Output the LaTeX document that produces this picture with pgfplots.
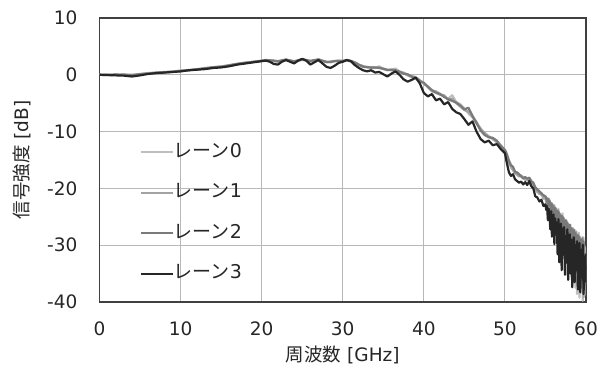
\documentclass[border=0pt]{standalone}
\usepackage{pgfplots}
\pgfplotsset{compat=1.18}
\usepackage{pgfplotstable}
\usepackage{fontspec}
\setmainfont{DejaVu Sans}
\newfontfamily\cjk{Noto Sans CJK JP}
\usetikzlibrary{calc}
\definecolor{laneA}{HTML}{BEBEBE}
\definecolor{laneB}{HTML}{A3A3A3}
\definecolor{laneC}{HTML}{7A7A7A}
\definecolor{laneD}{HTML}{262626}
\definecolor{gridc}{HTML}{B8B8B8}
\definecolor{axc}{HTML}{404040}
\pgfplotstableread{
f l0 l1 l2 l3
0 0 0 0 0
1 0 -0.05 0 -0.05
2 0.05 0 0.05 -0.1
3 0 0.05 0 -0.15
4 -0.05 0 -0.1 -0.3
5 0.1 0.15 0.1 -0.1
6 0.25 0.3 0.2 0.15
7 0.35 0.4 0.35 0.3
8 0.45 0.5 0.4 0.4
9 0.6 0.55 0.5 0.5
10 0.7 0.75 0.65 0.6
11 0.85 0.8 0.8 0.8
12 0.9 1.0 0.95 0.9
13 1.2 1.1 1.15 1.0
14 1.3 1.35 1.3 1.2
15 1.5 1.45 1.4 1.3
16 1.6 1.7 1.65 1.5
17 1.9 1.95 1.9 1.8
18 2.1 2.15 2.1 2.0
19 2.3 2.25 2.3 2.2
20 2.45 2.5 2.45 2.4
20.5 2.5 2.55 2.6 2.5
21 2.55 2.5 2.55 2.3
21.5 2.4 2.45 2.5 1.9
22 2.3 2.35 2.4 1.8
22.5 2.5 2.45 2.55 2.3
23 2.6 2.65 2.7 2.6
23.5 2.5 2.55 2.5 2.3
24 2.3 2.4 2.35 2.0
24.5 2.5 2.55 2.5 2.5
25 2.6 2.7 2.75 2.8
25.5 2.5 2.55 2.6 2.5
26 2.3 2.4 2.45 1.8
26.5 2.55 2.5 2.6 2.2
27 2.7 2.75 2.65 2.6
27.5 2.4 2.5 2.45 2.0
28 2.2 2.3 2.25 1.4
28.5 2.3 2.2 2.3 1.2
29 2.4 2.45 2.4 1.6
29.5 2.45 2.4 2.5 2.1
30 2.4 2.35 2.45 2.3
30.5 2.5 2.55 2.6 2.6
31 2.35 2.4 2.45 2.4
31.5 2.1 2.2 2.15 1.7
32 1.7 1.8 1.75 1.2
32.5 1.5 1.55 1.4 0.8
33 1.4 1.3 1.35 0.6
33.5 1.3 1.35 1.25 0.8
34 1.2 1.25 1.3 0.4
34.5 1.5 1.3 1.2 0.5
35 1.0 1.1 1.05 0.1
35.5 0.8 0.9 0.85 -0.3
36 0.9 0.8 0.9 0.2
36.5 1.1 0.7 0.8 0.6
37 0.6 0.5 0.55 0.0
37.5 0.4 0.3 0.2 -0.8
38 0.0 -0.1 0.1 -1.2
38.5 -0.2 -0.4 -0.3 -0.9
39 -0.4 -0.6 -0.5 -0.5
39.5 -0.9 -1.0 -1.1 -1.5
40 -1.6 -1.5 -1.4 -3.2
40.5 -2.0 -2.2 -2.1 -3.8
41 -2.8 -2.9 -2.7 -3.4
41.5 -2.9 -3.2 -3.1 -4.5
42 -3.3 -3.5 -3.4 -4.2
42.5 -3.8 -3.6 -3.9 -5.2
43 -4.2 -4.4 -4.3 -4.8
43.5 -3.6 -4.2 -4.6 -6.0
44 -4.8 -5.0 -4.9 -6.6
44.5 -5.2 -5.6 -5.4 -6.9
45 -5.9 -6.2 -6.1 -7.8
45.5 -6.8 -6.5 -5.8 -8.8
46 -7.5 -7.4 -7.2 -8.2
46.5 -8.6 -8.3 -8.5 -10.0
47 -9.4 -9.6 -9.8 -11.3
47.5 -10.4 -10.2 -10.6 -11.9
48 -10.8 -10.9 -11.0 -11.6
48.5 -11.4 -11.2 -11.1 -12.4
49 -11.7 -11.9 -11.6 -12.2
49.5 -12.4 -12.8 -12.5 -13.1
50 -13.5 -13.3 -13.2 -13.8
50.25 -15.2 -14.5 -14.0 -15.6
50.5 -15.8 -15.4 -15.1 -17.2
50.75 -16.0 -16.3 -15.9 -17.8
51 -16.5 -16.8 -16.2 -17.5
51.25 -17.0 -17.3 -17.1 -18.4
51.5 -17.4 -17.6 -17.2 -18.7
51.75 -17.6 -17.9 -17.5 -19.0
52 -17.8 -17.7 -17.9 -18.8
52.25 -18.3 -18.1 -18.2 -19.3
52.5 -18.2 -18.5 -18.0 -18.9
52.75 -18.6 -18.4 -18.3 -19.4
53 -18.3 -18.6 -18.1 -18.7
53.25 -18.9 -19.0 -18.7 -19.6
53.5 -19.1 -19.4 -19.0 -20.0
53.75 -20.3 -20.0 -19.8 -21.4
54 -20.7 -20.5 -20.2 -21.6
54.25 -20.6 -21.0 -20.5 -22.3
54.5 -21.2 -20.8 -20.9 -22.0
54.75 -21.5 -21.8 -21.2 -23.1
55 -21.9 -21.6 -21.4 -22.8
55.1 -22.6 -21.9 -21.7 -23.8
55.2 -21.7 -23.0 -22.4 -23.1
55.3 -23.4 -22.1 -21.8 -25.6
55.4 -22.5 -21.8 -23.0 -23.6
55.5 -22.0 -23.6 -22.2 -24.9
55.6 -24.1 -22.4 -22.6 -27.2
55.7 -22.7 -24.3 -23.7 -24.0
55.8 -25.0 -22.6 -22.8 -28.5
55.9 -23.2 -23.5 -24.2 -25.1
56.0 -22.9 -25.1 -23.2 -24.6
56.1 -25.6 -23.0 -24.9 -29.8
56.2 -23.4 -25.8 -23.5 -25.3
56.3 -26.8 -23.5 -24.0 -27.9
56.4 -24.0 -24.2 -25.7 -26.0
56.5 -24.8 -26.9 -23.9 -31.6
56.6 -23.6 -24.0 -26.4 -25.4
56.7 -27.9 -27.6 -24.3 -33.0
56.8 -24.5 -24.6 -25.2 -27.8
56.9 -29.0 -25.4 -27.3 -26.2
57.0 -25.0 -29.0 -24.8 -34.4
57.1 -24.4 -25.0 -28.0 -27.1
57.2 -30.2 -28.1 -25.1 -30.5
57.3 -25.3 -25.5 -26.3 -26.8
57.4 -31.5 -30.7 -29.2 -35.2
57.5 -26.8 -25.9 -25.6 -28.4
57.6 -25.6 -31.8 -30.0 -33.0
57.7 -32.8 -26.6 -26.0 -27.2
57.8 -26.2 -28.0 -27.9 -36.1
57.9 -34.0 -33.1 -31.2 -29.5
58.0 -27.5 -26.5 -26.4 -28.1
58.1 -26.4 -34.4 -32.0 -35.0
58.2 -35.6 -27.4 -27.0 -29.0
58.3 -27.0 -31.2 -29.5 -37.4
58.4 -36.8 -27.0 -33.1 -31.2
58.5 -28.9 -35.8 -27.3 -28.6
58.6 -27.3 -28.1 -34.0 -36.5
58.7 -37.5 -33.5 -27.8 -30.0
58.8 -28.0 -27.6 -31.0 -34.2
58.9 -38.6 -36.9 -34.8 -29.3
59.0 -30.2 -28.3 -28.2 -37.8
59.1 -27.8 -35.2 -35.5 -31.5
59.2 -39.2 -28.9 -28.6 -29.6
59.3 -28.5 -38.1 -32.4 -38.3
59.4 -37.0 -29.5 -36.0 -30.8
59.5 -29.4 -37.3 -28.9 -35.6
59.6 -39.8 -28.6 -36.6 -29.9
59.7 -28.7 -39.2 -29.3 -38.6
59.8 -38.9 -30.0 -33.8 -32.0
59.9 -30.5 -37.0 -37.0 -36.4
60.0 -33.0 -34.5 -32.0 -31.5
}\datatab
\begin{document}
\begin{tikzpicture}
\begin{axis}[
  scale only axis, width=486.5bp, height=284bp,
  xmin=0, xmax=60, ymin=-40, ymax=10,
  xtick={0,10,20,30,40,50,60}, ytick={-40,-30,-20,-10,0,10},
  xticklabels={0,10,20,30,40,50,60},
  yticklabels={-40,-30,-20,-10,0,10},
  major tick length=0pt,
  grid=major, grid style={color=gridc, line width=0.9bp},
  axis line style={color=axc, line width=1.3bp},
  tick label style={font=\fontsize{18.5bp}{22bp}\selectfont, inner sep=0pt, color=black!85},
  xticklabel style={anchor=center, yshift=-27bp},
  yticklabel style={anchor=east, xshift=-22bp},
  label style={font=\fontsize{18.5bp}{22bp}\selectfont, color=black!85},
  xlabel={{\cjk 周波数} [GHz]},
  ylabel={{\cjk 信号強度} [dB]},
  xlabel style={at={(axis description cs:0.5,-0.187)}, anchor=center},
  ylabel style={at={(axis description cs:-0.1593,0.5)}, anchor=center},
  legend style={draw=none, fill=none, at={(axis description cs:0.0823,0.556)}, anchor=north west,
    inner sep=0pt, row sep=24.5bp, font=\fontsize{19bp}{22bp}\selectfont,
    nodes={inner sep=0pt, text height=13bp, text depth=3bp, text=black!85}},
  legend cell align=left,
  legend image code/.code={\draw[#1] (0bp,0bp) -- (32bp,0bp);},
  every axis plot/.append style={line width=2.2bp, line join=round},
]
\addplot[laneA] table[x=f, y=l0] {\datatab};
\addplot[laneB] table[x=f, y=l1] {\datatab};
\addplot[laneC] table[x=f, y=l2] {\datatab};
\addplot[laneD] table[x=f, y=l3] {\datatab};
\legend{{\cjk レーン}0, {\cjk レーン}1, {\cjk レーン}2, {\cjk レーン}3}
\end{axis}
\pgfresetboundingbox
\path[use as bounding box] ($(current axis.south west)+(-99.5bp,-80bp)$) rectangle ($(current axis.north east)+(20bp,18bp)$);
\end{tikzpicture}
\end{document}
